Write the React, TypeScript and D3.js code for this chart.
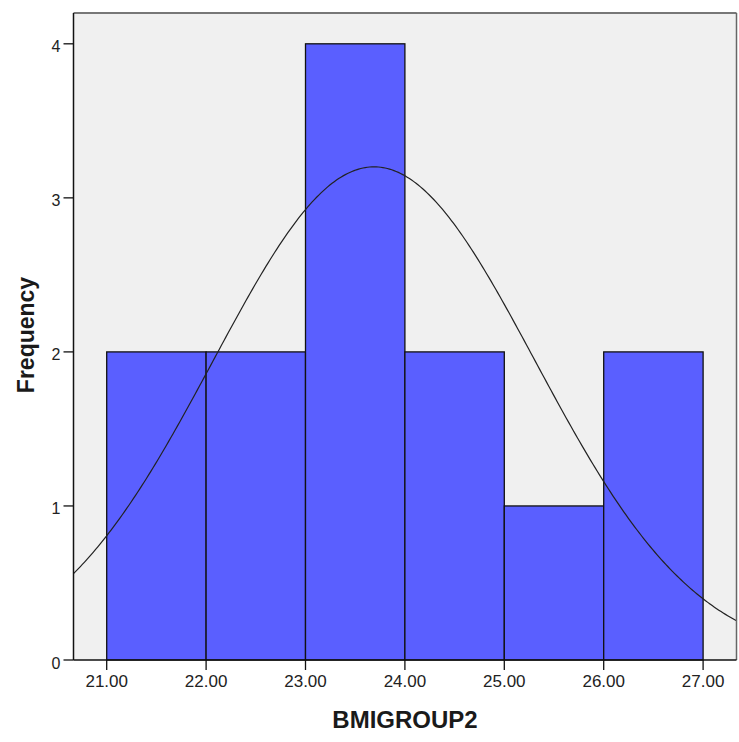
import React, { useEffect, useRef } from 'react';
import * as d3 from 'd3';

const binStarts = [21, 22, 23, 24, 25, 26];
const binCounts = [2, 2, 4, 2, 1, 2];
const xTicks = [21, 22, 23, 24, 25, 26, 27];
const yTicks = [0, 1, 2, 3, 4];
// normal curve fit shown by the chart
const curveMean = 23.69;
const curveSd = 1.62;

export default function App() {
  const ref = useRef<SVGSVGElement | null>(null);

  useEffect(() => {
    document.body.style.margin = '0';
    const svg = d3.select(ref.current);
    svg.selectAll('*').remove();

    const left = 73.5, right = 736.5, top = 13, bottom = 660;
    const x = d3.scaleLinear().domain([20.666, 27.336]).range([left, right]);
    const y = d3.scaleLinear().domain([0, 4.2]).range([bottom, top]);
    const font = '"Liberation Sans", Arial, sans-serif';

    svg.append('rect')
      .attr('x', left).attr('y', top)
      .attr('width', right - left).attr('height', bottom - top)
      .attr('fill', '#f0f0f0');

    const g = svg.append('g');
    g.selectAll('rect.bar')
      .data(binStarts)
      .enter().append('rect')
      .attr('class', 'bar')
      .attr('x', d => x(d))
      .attr('y', (d, i) => y(binCounts[i]))
      .attr('width', d => x(d + 1) - x(d))
      .attr('height', (d, i) => y(0) - y(binCounts[i]))
      .attr('fill', '#5a5fff')
      .attr('stroke', '#111')
      .attr('stroke-width', 1.3);

    // normal curve
    const n = d3.sum(binCounts);
    const dens = (v: number) => n * 1 / (curveSd * Math.sqrt(2 * Math.PI)) * Math.exp(-0.5 * ((v - curveMean) / curveSd) ** 2);
    const pts = d3.range(0, 301).map(i => {
      const v = 20.666 + (27.336 - 20.666) * i / 300;
      return [v, dens(v)] as [number, number];
    });
    svg.append('path')
      .attr('d', d3.line<[number, number]>().x(d => x(d[0])).y(d => y(d[1]))(pts))
      .attr('fill', 'none')
      .attr('stroke', '#222')
      .attr('stroke-width', 1.2);

    // frame
    svg.append('line').attr('x1', left).attr('x2', right).attr('y1', top).attr('y2', top)
      .attr('stroke', '#777').attr('stroke-width', 2);
    svg.append('line').attr('x1', right).attr('x2', right).attr('y1', top).attr('y2', bottom)
      .attr('stroke', '#666').attr('stroke-width', 1.5);
    svg.append('line').attr('x1', left).attr('x2', left).attr('y1', top).attr('y2', bottom)
      .attr('stroke', '#111').attr('stroke-width', 1.5);
    svg.append('line').attr('x1', left).attr('x2', right).attr('y1', bottom).attr('y2', bottom)
      .attr('stroke', '#111').attr('stroke-width', 1.5);

    // y ticks
    yTicks.forEach(t => {
      svg.append('line').attr('x1', left - 10).attr('x2', left).attr('y1', y(t)).attr('y2', y(t))
        .attr('stroke', '#111').attr('stroke-width', 1.3);
      svg.append('text').attr('x', left - 13).attr('y', y(t) + 8.5)
        .attr('text-anchor', 'end').attr('font-family', font).attr('font-size', 16)
        .attr('fill', '#222').text(String(t));
    });

    // x ticks
    xTicks.forEach(t => {
      svg.append('line').attr('x1', x(t)).attr('x2', x(t)).attr('y1', bottom).attr('y2', bottom + 10)
        .attr('stroke', '#111').attr('stroke-width', 1.3);
      svg.append('text').attr('x', x(t)).attr('y', 687)
        .attr('text-anchor', 'middle').attr('font-family', font).attr('font-size', 17)
        .attr('fill', '#222').text(t.toFixed(2));
    });

    svg.append('text').attr('x', 405).attr('y', 728)
      .attr('text-anchor', 'middle').attr('font-family', font).attr('font-size', 24)
      .attr('font-weight', 'bold').attr('fill', '#1a1a1a').text('BMIGROUP2');

    svg.append('text').attr('transform', `translate(34, 335) rotate(-90)`)
      .attr('text-anchor', 'middle').attr('font-family', font).attr('font-size', 23)
      .attr('font-weight', 'bold').attr('fill', '#1a1a1a').text('Frequency');
  }, []);

  return <svg ref={ref} width={739} height={742} style={{ display: 'block', background: '#fff' }} />;
}
